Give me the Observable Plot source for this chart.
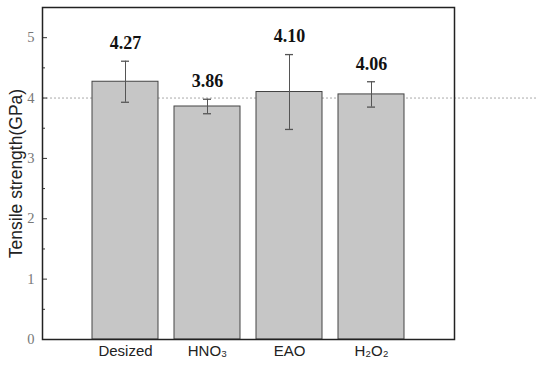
<!DOCTYPE html>
<html><head><meta charset="utf-8">
<script src="https://cdn.jsdelivr.net/npm/d3@7"></script>
<script src="https://cdn.jsdelivr.net/npm/@observablehq/plot@0.6"></script>
<style>body{margin:0;background:#fff}</style>
</head><body><div id="chart"></div>
<script>
const categories = ["Desized", "HNO3", "EAO", "H2O2"];
const categoryLabels = ["Desized", "HNO₃", "EAO", "H₂O₂"];
const values = [4.27, 3.86, 4.10, 4.06];
const errors = [0.34, 0.12, 0.62, 0.21];
const valueLabels = ["4.27", "3.86", "4.10", "4.06"];
const yMajorTicks = [0, 1, 2, 3, 4, 5];
const yMinorTicks = [0.5, 1.5, 2.5, 3.5, 4.5];
const referenceLine = [4];
const yTitle = "Tensile strength(GPa)";

const data = categories.map((c, i) => ({
  cat: c, value: values[i], lo: values[i] - errors[i], hi: values[i] + errors[i], label: valueLabels[i]
}));
const labelOf = new Map(categories.map((c, i) => [c, categoryLabels[i]]));

const chart = Plot.plot({
  width: 550, height: 368,
  marginLeft: 42, marginRight: 96, marginTop: 7, marginBottom: 29,
  x: {domain: categories, paddingInner: 0.2, paddingOuter: 0.6, axis: null},
  y: {domain: [0, 5.5], axis: null},
  marks: [
    Plot.ruleY(referenceLine, {stroke: "#aaa", strokeWidth: 1, strokeDasharray: "2,2", insetRight: -84, clip: false}),
    Plot.barY(data, {x: "cat", y: "value", fill: "#c6c6c6", stroke: "#444", strokeWidth: 1}),
    Plot.ruleX(data, {x: "cat", y1: "lo", y2: "hi", stroke: "#555", strokeWidth: 1}),
    Plot.tickY(data, {x: "cat", y: "lo", stroke: "#555", strokeWidth: 1.3, inset: 29}),
    Plot.tickY(data, {x: "cat", y: "hi", stroke: "#555", strokeWidth: 1.3, inset: 29}),
    Plot.text(data, {x: "cat", y: "hi", text: "label", dy: -18, fontSize: 18, fontWeight: "bold", fontFamily: "Liberation Serif", fill: "#111"}),
    Plot.axisY({ticks: yMinorTicks, tickSize: -3, tickFormat: () => "", stroke: "#333"}),
    Plot.axisY({ticks: yMajorTicks, tickSize: -5, tickPadding: 13, tickFormat: d => String(d), fontSize: 14.5, fontFamily: "Liberation Serif", color: "#777", stroke: "#333", label: null}),
    Plot.axisX({tickSize: 0, tickPadding: 6, tickFormat: d => labelOf.get(d), fontSize: 15, fontFamily: "Liberation Sans", color: "#222", label: null}),
    Plot.text([yTitle], {frameAnchor: "left", textAnchor: "middle", text: d => d, rotate: -90, dx: -26, fontSize: 17.5, fontFamily: "Liberation Sans", fill: "#222"}),
    Plot.frame({stroke: "#222", strokeWidth: 1.5})
  ]
});
document.getElementById("chart").appendChild(chart);
</script>
</body></html>
